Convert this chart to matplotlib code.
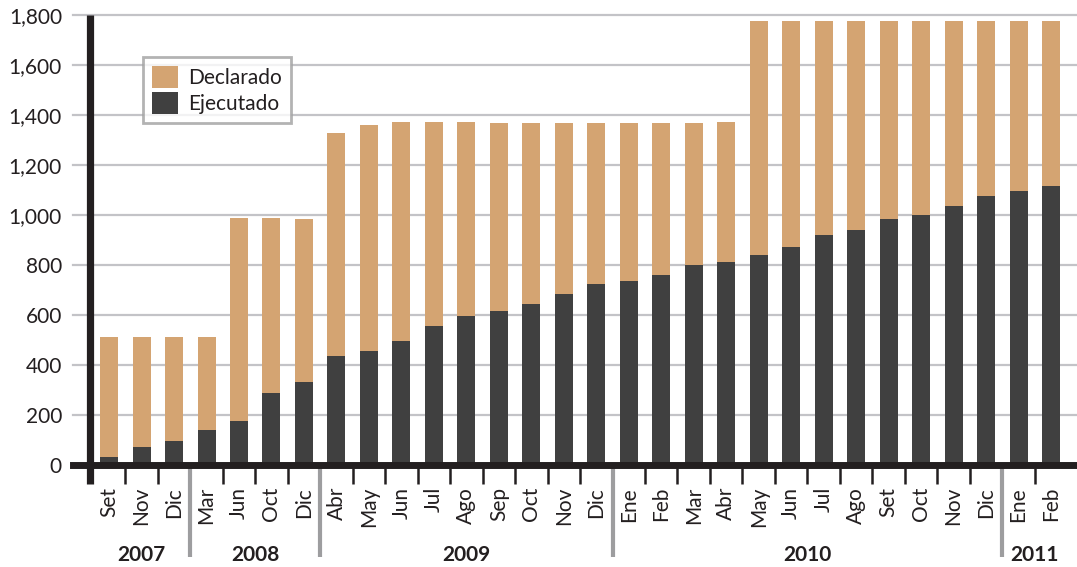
import matplotlib.pyplot as plt
from matplotlib.patches import Patch

months = ['Set', 'Nov', 'Dic',
          'Mar', 'Jun', 'Oct', 'Dic',
          'Abr', 'May', 'Jun', 'Jul', 'Ago', 'Sep', 'Oct', 'Nov', 'Dic',
          'Ene', 'Feb', 'Mar', 'Abr', 'May', 'Jun', 'Jul', 'Ago', 'Set', 'Oct', 'Nov', 'Dic',
          'Ene', 'Feb']
years = ['2007', '2008', '2009', '2010', '2011']
year_sizes = [3, 4, 9, 12, 2]

declarado = [510, 510, 510, 510,
             988, 988, 984,
             1330, 1360, 1372, 1372, 1372, 1368, 1368, 1368, 1368,
             1368, 1368, 1368, 1372, 1775, 1775, 1775, 1775, 1775, 1775, 1775, 1775,
             1775, 1775]
ejecutado = [30, 70, 95, 140,
             176, 288, 332,
             436, 456, 496, 556, 596, 616, 644, 684, 724,
             736, 760, 800, 812, 840, 872, 920, 940, 984, 1000, 1036, 1076,
             1096, 1116]

tan = '#d4a472'
dark = '#404040'
ink = '#231f20'
fs = 15

plt.rcParams['font.family'] = ['Lato', 'DejaVu Sans']

fig = plt.figure(figsize=(10.77, 5.67), dpi=100)
ax = fig.add_axes([0.0678, 0.18, 0.9322, 0.7935])

x = list(range(len(months)))
ax.bar(x, declarado, width=0.555, color=tan, zorder=2)
ax.bar(x, ejecutado, width=0.555, color=dark, zorder=3)

ax.set_xlim(-1.11, 29.8)
ax.set_ylim(0, 1800)
ax.set_yticks(range(0, 1801, 200))
ax.set_yticklabels(['{:,}'.format(v) for v in range(0, 1801, 200)])
ax.tick_params(axis='y', length=0, pad=8, labelsize=fs, labelcolor=ink)
ax.set_xticks([])
for s in ax.spines.values():
    s.set_visible(False)
for v in range(200, 1801, 200):
    ax.axhline(v, color='#c3c3c7', lw=1.6, zorder=1, clip_on=False)

# x axis line and left spine
ax.axhline(0, color=ink, lw=5, zorder=4, clip_on=False)
ax.plot([-0.58, -0.58], [1800, -76], color=ink, lw=5.2, zorder=4,
        clip_on=False, solid_capstyle='butt')

# month ticks and year separators
bounds = []
acc = 0
for n in year_sizes[:-1]:
    acc += n
    bounds.append(acc - 0.5)
minor = [i + 0.5 for i in range(len(months) - 1) if i + 0.5 not in bounds]
ax.vlines(minor, -76, -12, color=ink, lw=1.8, clip_on=False)
ax.vlines(bounds, -368, -12, color='#9d9d9f', lw=3, clip_on=False)

for i, m in enumerate(months):
    ax.text(i, -88, m, rotation=90, ha='center', va='top', fontsize=fs,
            color=ink)

start = 0
for yr, n in zip(years, year_sizes):
    ax.text(start + (n - 1) / 2, -362, yr, ha='center', va='center',
            fontsize=fs, fontweight='bold', color=ink)
    start += n

handles = [Patch(facecolor=tan, label='Declarado'),
           Patch(facecolor=dark, label='Ejecutado')]
leg = ax.legend(handles=handles, loc='upper left', bbox_to_anchor=(0.0697, 0.9067),
                borderaxespad=0, fancybox=False, fontsize=fs,
                handlelength=1.25, handleheight=1.25, handletextpad=0.45,
                labelspacing=0.15, borderpad=0.45)
leg.get_frame().set_edgecolor('#a0a0a0')
leg.get_frame().set_linewidth(2)
for t in leg.get_texts():
    t.set_color(ink)

fig.savefig('out.png', dpi=100)
